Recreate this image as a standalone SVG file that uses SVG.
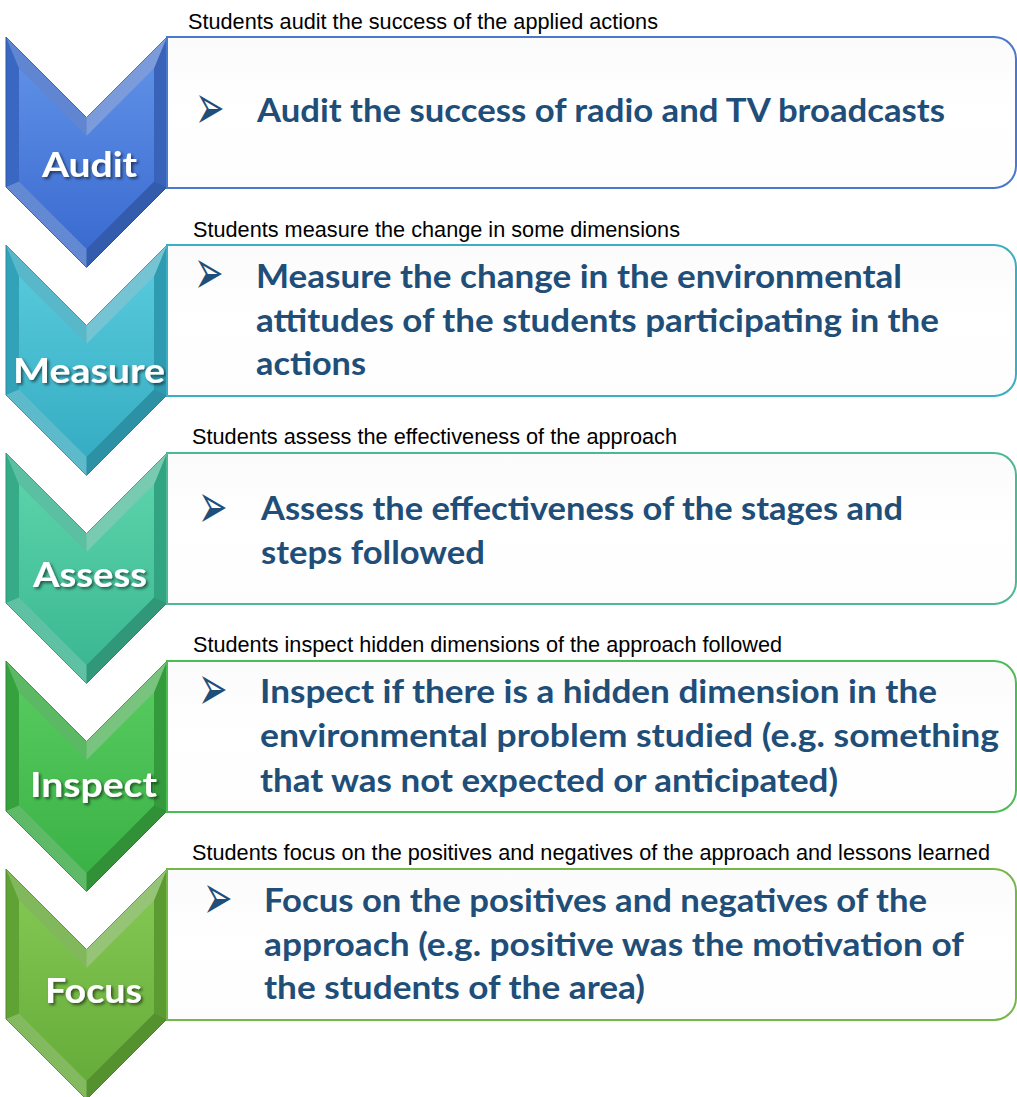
<svg xmlns="http://www.w3.org/2000/svg" xmlns:xlink="http://www.w3.org/1999/xlink" width="1017" height="1097" viewBox="0 0 1017 1097">
<style>
.cap{font-family:"Liberation Sans",Arial,sans-serif;font-size:22px;fill:#000}
.main{font-family:Lato,"Open Sans",sans-serif;font-weight:700;font-size:33px;fill:#1f4e79}
.lbl{font-family:Lato,"Open Sans",sans-serif;font-weight:700;font-size:35px;fill:#fff;filter:url(#sh)}
.bul{font-family:"DejaVu Sans",sans-serif;font-size:44px;fill:#1f4e79}
.box{fill:url(#boxg);stroke-width:2}
.refl{stroke:#ececec;stroke-width:3;filter:url(#bl)}
</style>
<defs>
<filter id="sh" x="-20%" y="-20%" width="140%" height="150%"><feDropShadow dx="2" dy="2" stdDeviation="1.5" flood-color="#000" flood-opacity="0.55"/></filter>
<filter id="bl"><feGaussianBlur stdDeviation="1"/></filter>
<linearGradient id="boxg" x1="0" y1="0" x2="0" y2="1"><stop offset="0" stop-color="#fbfbfb"/><stop offset="0.5" stop-color="#ffffff"/><stop offset="1" stop-color="#fdfdfd"/></linearGradient>
<linearGradient id="g-audit" x1="0" y1="0" x2="0" y2="1"><stop offset="0" stop-color="#5d8fe6"/><stop offset="1" stop-color="#3b6bd0"/></linearGradient>
<linearGradient id="g-measure" x1="0" y1="0" x2="0" y2="1"><stop offset="0" stop-color="#56c8da"/><stop offset="1" stop-color="#36adc3"/></linearGradient>
<linearGradient id="g-assess" x1="0" y1="0" x2="0" y2="1"><stop offset="0" stop-color="#5ad2a9"/><stop offset="1" stop-color="#3bb892"/></linearGradient>
<linearGradient id="g-inspect" x1="0" y1="0" x2="0" y2="1"><stop offset="0" stop-color="#55c95e"/><stop offset="1" stop-color="#3bb246"/></linearGradient>
<linearGradient id="g-focus" x1="0" y1="0" x2="0" y2="1"><stop offset="0" stop-color="#82c652"/><stop offset="1" stop-color="#66ac3a"/></linearGradient>
<polygon id="chev-outer" points="6,0 86.5,80.5 167,0 167,150 86.5,230.5 6,150"/>
<polygon id="chev-inner" points="19,31.4 86.5,98.9 154,31.4 154,144.6 86.5,212.1 19,144.6"/>
<g id="chev-facets">
<polygon points="6,0 86.5,80.5 86.5,98.9 19,31.4" fill="#fff" fill-opacity="0.18"/>
<polygon points="86.5,80.5 167,0 154,31.4 86.5,98.9" fill="#fff" fill-opacity="0.32"/>
<polygon points="167,0 167,150 154,144.6 154,31.4" fill="#000" fill-opacity="0.08"/>
<polygon points="167,150 86.5,230.5 86.5,212.1 154,144.6" fill="#000" fill-opacity="0.14"/>
<polygon points="86.5,230.5 6,150 19,144.6 86.5,212.1" fill="#fff" fill-opacity="0.2"/>
<polygon points="6,150 6,0 19,31.4 19,144.6" fill="#000" fill-opacity="0.04"/>
</g>
<path id="boxshape" d="M167,0 H994 A22,22 0 0 1 1016,22 V129 A22,22 0 0 1 994,151 H167 Z"/>
</defs>

<g id="connectors"/>

<g id="node-audit">
<use xlink:href="#chev-outer" y="37" fill="#3d6cc9" stroke="#2f58a8" stroke-width="1"/>
<use xlink:href="#chev-inner" y="37" fill="url(#g-audit)"/>
<use xlink:href="#chev-facets" y="37"/>
<text class="lbl" x="42" y="177" textLength="95" lengthAdjust="spacingAndGlyphs">Audit</text>
<use xlink:href="#boxshape" y="37" class="box" stroke="#4a78cf"/>
<line class="refl" x1="185" y1="173" x2="1000" y2="173"/>
<text class="cap" x="188" y="29" textLength="470" lengthAdjust="spacingAndGlyphs">Students audit the success of the applied actions</text>
<text class="bul" transform="translate(195,129) scale(0.8,1.45)">➢</text>
<text class="main" x="257" y="122" textLength="688" lengthAdjust="spacingAndGlyphs">Audit the success of radio and TV broadcasts</text>
</g>

<g id="node-measure">
<use xlink:href="#chev-outer" y="245" fill="#34a9bf" stroke="#2a8fa3" stroke-width="1"/>
<use xlink:href="#chev-inner" y="245" fill="url(#g-measure)"/>
<use xlink:href="#chev-facets" y="245"/>
<text class="lbl" x="13" y="383" textLength="152" lengthAdjust="spacingAndGlyphs">Measure</text>
<use xlink:href="#boxshape" y="245" class="box" stroke="#3aafc1"/>
<line class="refl" x1="185" y1="381" x2="1000" y2="381"/>
<text class="cap" x="193" y="237" textLength="487" lengthAdjust="spacingAndGlyphs">Students measure the change in some dimensions</text>
<text class="bul" transform="translate(194,294) scale(0.8,1.45)">➢</text>
<text class="main" x="256" y="288" textLength="646" lengthAdjust="spacingAndGlyphs">Measure the change in the environmental</text>
<text class="main" x="256" y="331.5" textLength="683" lengthAdjust="spacingAndGlyphs">attitudes of the students participating in the</text>
<text class="main" x="256" y="375" textLength="110" lengthAdjust="spacingAndGlyphs">actions</text>
</g>

<g id="node-assess">
<use xlink:href="#chev-outer" y="453" fill="#38b28d" stroke="#2d9676" stroke-width="1"/>
<use xlink:href="#chev-inner" y="453" fill="url(#g-assess)"/>
<use xlink:href="#chev-facets" y="453"/>
<text class="lbl" x="33" y="587" textLength="114" lengthAdjust="spacingAndGlyphs">Assess</text>
<use xlink:href="#boxshape" y="453" class="box" stroke="#4cb994"/>
<line class="refl" x1="185" y1="589" x2="1000" y2="589"/>
<text class="cap" x="192" y="444" textLength="485" lengthAdjust="spacingAndGlyphs">Students assess the effectiveness of the approach</text>
<text class="bul" transform="translate(198,528) scale(0.8,1.45)">➢</text>
<text class="main" x="261" y="520" textLength="642" lengthAdjust="spacingAndGlyphs">Assess the effectiveness of the stages and</text>
<text class="main" x="261" y="564" textLength="224" lengthAdjust="spacingAndGlyphs">steps followed</text>
</g>

<g id="node-inspect">
<use xlink:href="#chev-outer" y="661" fill="#38a941" stroke="#2e8d36" stroke-width="1"/>
<use xlink:href="#chev-inner" y="661" fill="url(#g-inspect)"/>
<use xlink:href="#chev-facets" y="661"/>
<text class="lbl" x="30" y="797" textLength="127" lengthAdjust="spacingAndGlyphs">Inspect</text>
<use xlink:href="#boxshape" y="661" class="box" stroke="#4bbd55"/>
<line class="refl" x1="185" y1="797" x2="1000" y2="797"/>
<text class="cap" x="193" y="652" textLength="589" lengthAdjust="spacingAndGlyphs">Students inspect hidden dimensions of the approach followed</text>
<text class="bul" transform="translate(198,710) scale(0.8,1.45)">➢</text>
<text class="main" x="260" y="703" textLength="677" lengthAdjust="spacingAndGlyphs">Inspect if there is a hidden dimension in the</text>
<text class="main" x="260" y="747" textLength="739" lengthAdjust="spacingAndGlyphs">environmental problem studied (e.g. something</text>
<text class="main" x="260" y="792" textLength="578" lengthAdjust="spacingAndGlyphs">that was not expected or anticipated)</text>
</g>

<g id="node-focus">
<use xlink:href="#chev-outer" y="869" fill="#64a937" stroke="#528d2c" stroke-width="1"/>
<use xlink:href="#chev-inner" y="869" fill="url(#g-focus)"/>
<use xlink:href="#chev-facets" y="869"/>
<text class="lbl" x="45" y="1003" textLength="97" lengthAdjust="spacingAndGlyphs">Focus</text>
<use xlink:href="#boxshape" y="869" class="box" stroke="#76b847"/>
<line class="refl" x1="185" y1="1005" x2="1000" y2="1005"/>
<text class="cap" x="192" y="860" textLength="798" lengthAdjust="spacingAndGlyphs">Students focus on the positives and negatives of the approach and lessons learned</text>
<text class="bul" transform="translate(203,919) scale(0.8,1.45)">➢</text>
<text class="main" x="264" y="912" textLength="663" lengthAdjust="spacingAndGlyphs">Focus on the positives and negatives of the</text>
<text class="main" x="264" y="956" textLength="700" lengthAdjust="spacingAndGlyphs">approach (e.g. positive was the motivation of</text>
<text class="main" x="264" y="999" textLength="381" lengthAdjust="spacingAndGlyphs">the students of the area)</text>
</g>
</svg>
